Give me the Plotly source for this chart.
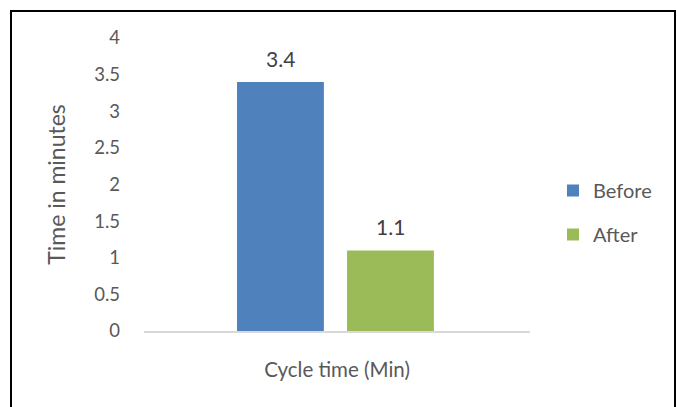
import plotly.graph_objects as go

# Chart data
category = ["Cycle time (Min)"]
series_names = ["Before", "After"]
series_values = [[3.4], [1.1]]
series_colors = ["#4f81bd", "#9bbb59"]
tick_values = [0, 0.5, 1, 1.5, 2, 2.5, 3, 3.5, 4]
tick_labels = ["0", "0.5", "1", "1.5", "2", "2.5", "3", "3.5", "4"]

FONT = "Lato"
TEXT_COLOR = "#595959"

# Bar placement within the single category slot (category units)
bar_width = 0.225
bar_offsets = [-0.259, 0.026]

L, R, T, B = 144, 147, 38, 76
W, H = 677, 407
pw, ph = W - L - R, H - T - B

fig = go.Figure()
for name, vals, color, off in zip(series_names, series_values, series_colors, bar_offsets):
    fig.add_trace(go.Bar(
        x=category, y=vals, name=name, legendgroup=name,
        marker=dict(color=color, line=dict(width=0)),
        width=bar_width, offset=off,
    ))
    # value label above each bar
    fig.add_annotation(
        x=0, xshift=(off + bar_width / 2) * pw, y=vals[0],
        text=f"{vals[0]:g}", showarrow=False, yanchor="bottom", yshift=9,
        font=dict(family=FONT, size=21, color="#404040"),
    )

# outer frame
def px_x(p):
    return (p - L) / pw
def px_y(p):
    return (H - B - p) / ph
fig.add_shape(type="rect", xref="paper", yref="paper",
              x0=px_x(11), x1=px_x(675), y0=px_y(420), y1=px_y(11),
              line=dict(color="#000000", width=2), fillcolor="rgba(0,0,0,0)", layer="below")

fig.update_layout(
    width=W, height=H,
    margin=dict(l=L, r=R, t=T, b=B, pad=0),
    paper_bgcolor="white", plot_bgcolor="white",
    font=dict(family=FONT, color=TEXT_COLOR, size=18),
    barmode="overlay",
    showlegend=True,
    legend=dict(x=px_x(553), y=px_y(171), xanchor="left", yanchor="top",
                font=dict(family=FONT, size=20, color=TEXT_COLOR),
                tracegroupgap=15, itemwidth=30, bgcolor="rgba(0,0,0,0)"),
    xaxis=dict(type="category", range=[-0.5, 0.5], showgrid=False, showline=True,
               linecolor="#d9d9d9", linewidth=1.5, ticks="",
               ticklabelstandoff=20,
               tickfont=dict(family=FONT, size=20.5, color=TEXT_COLOR), fixedrange=True),
    yaxis=dict(range=[0, 4], tickvals=tick_values, ticktext=tick_labels,
               showgrid=False, showline=False, zeroline=False, ticks="",
               ticklabelstandoff=23,
               tickfont=dict(family=FONT, size=18.5, color=TEXT_COLOR),
               title=dict(text="Time in minutes", standoff=22,
                          font=dict(family=FONT, size=23, color=TEXT_COLOR)),
               fixedrange=True),
)

fig.write_html("out.html")
